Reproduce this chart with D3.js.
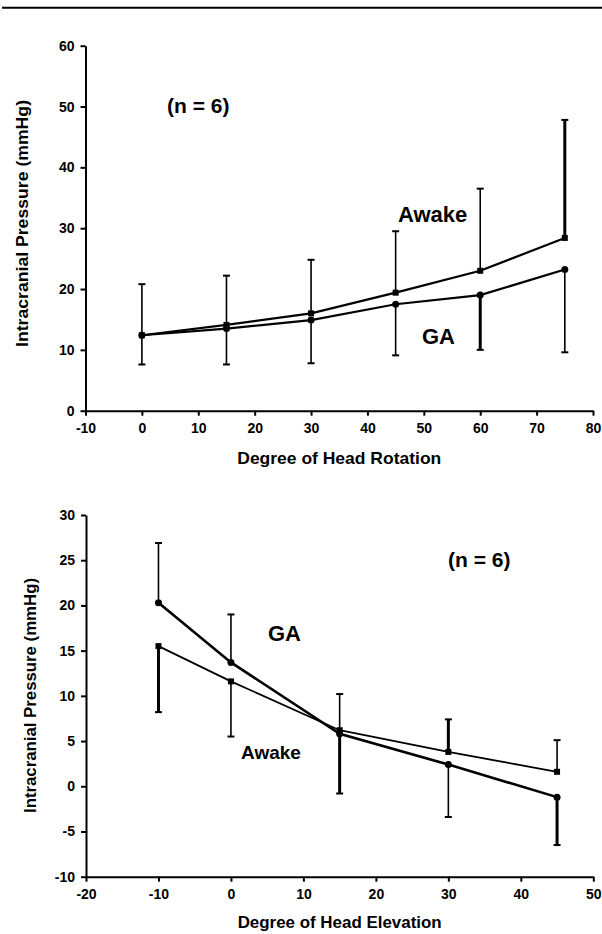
<!DOCTYPE html>
<html>
<head>
<meta charset="utf-8">
<script src="https://cdn.jsdelivr.net/npm/d3@7"></script>
<style>
    body { margin: 0; background: #fff; }
    svg { display: block; }
    .axis path, .axis line { stroke: #000; }
    .axis text { font-family: "Liberation Sans", Arial, sans-serif; font-weight: bold; font-size: 14px; fill: #000; }
    .lbl { font-family: "Liberation Sans", Arial, sans-serif; font-weight: bold; fill: #000; }
</style>
</head>
<body>
<svg id="chart" width="602" height="934"></svg>
<script>

//head rotation panel
var rotation_deg = [0, 15, 30, 45, 60, 75];
var rotation_awake = [12.4, 14.1, 16.0, 19.4, 23.0, 28.4];
var rotation_ga = [12.4, 13.5, 14.9, 17.5, 19.0, 23.2];
var rotation_awake_sd = [8.4, 8.1, 8.8, 10.1, 13.5, 19.4];
var rotation_awake_side = ["up", "up", "up", "up", "up", "up"];
var rotation_ga_sd = [4.8, 5.9, 7.1, 8.4, 9.0, 13.6];
var rotation_ga_side = ["down", "down", "down", "down", "down", "down"];
var rotation_x_ticks = [-10, 0, 10, 20, 30, 40, 50, 60, 70, 80];
var rotation_y_ticks = [0, 10, 20, 30, 40, 50, 60];

//head elevation panel
var elevation_deg = [-10, 0, 15, 30, 45];
var elevation_awake = [15.5, 11.6, 6.2, 3.8, 1.6];
var elevation_ga = [20.3, 13.7, 5.8, 2.4, -1.2];
var elevation_awake_sd = [7.3, 6.1, 4.0, 3.6, 3.5];
var elevation_awake_side = ["down", "down", "up", "up", "up"];
var elevation_ga_sd = [6.6, 5.3, 6.6, 5.8, 5.3];
var elevation_ga_side = ["up", "up", "down", "down", "down"];
var elevation_x_ticks = [-20, -10, 0, 10, 20, 30, 40, 50];
var elevation_y_ticks = [-10, -5, 0, 5, 10, 15, 20, 25, 30];

var svg = d3.select("#chart");

//top rule of the page
svg.append("line")
    .attr("x1", 2).attr("x2", 602)
    .attr("y1", 7.8).attr("y2", 7.8)
    .attr("stroke", "#000").attr("stroke-width", 2);

//plain hyphen for negatives, as printed
var fmt = d => String(d);

function draw_panel(p) {

    var x = d3.scaleLinear().domain(p.x_domain).range(p.x_range);
    var y = d3.scaleLinear().domain(p.y_domain).range(p.y_range);
    var g = svg.append("g");

    //axes
    g.append("g").attr("class", "axis")
        .attr("transform", "translate(0," + p.y_range[0] + ")")
        .call(d3.axisBottom(x).tickValues(p.x_ticks).tickSize(5).tickSizeOuter(0).tickPadding(7).tickFormat(fmt))
        .call(a => a.selectAll("path,line").attr("stroke-width", 2));

    g.append("g").attr("class", "axis")
        .attr("transform", "translate(" + p.x_range[0] + ",0)")
        .call(d3.axisLeft(y).tickValues(p.y_ticks).tickSize(5).tickSizeOuter(0).tickPadding(6).tickFormat(fmt))
        .call(a => a.selectAll("path,line").attr("stroke-width", 2));

    g.selectAll(".axis text").attr("font-family", null).attr("font-size", null);

    //series
    p.series.forEach(function(s) {
        var pts = p.deg.map((d, i) => ({x: d, v: s.values[i], sd: s.sd[i], side: s.side[i], i: i}));

        //error bars
        var bars = g.selectAll(".bar_" + s.name)
            .data(pts)
            .join("g").attr("class", "bar_" + s.name);

        bars.append("line")
            .attr("x1", d => x(d.x)).attr("x2", d => x(d.x))
            .attr("y1", d => y(d.v))
            .attr("y2", d => y(d.side === "up" ? d.v + d.sd : d.v - d.sd))
            .attr("stroke", "#000")
            .attr("stroke-width", d => s.heavy.indexOf(d.i) > -1 ? 3 : 1.6);

        bars.append("line")
            .attr("x1", d => x(d.x) - 3.5).attr("x2", d => x(d.x) + 3.5)
            .attr("y1", d => y(d.side === "up" ? d.v + d.sd : d.v - d.sd))
            .attr("y2", d => y(d.side === "up" ? d.v + d.sd : d.v - d.sd))
            .attr("stroke", "#000")
            .attr("stroke-width", 2);

        g.append("path")
            .datum(pts)
            .attr("fill", "none")
            .attr("stroke", "#000")
            .attr("stroke-width", s.width)
            .attr("d", d3.line().x(d => x(d.x)).y(d => y(d.v)));

        if (s.marker === "square") {
            g.selectAll(".sq_" + s.name)
                .data(pts)
                .join("rect").attr("class", "sq_" + s.name)
                .attr("x", d => x(d.x) - 3).attr("y", d => y(d.v) - 3)
                .attr("width", 6).attr("height", 6)
                .attr("fill", "#000");
        } else {
            g.selectAll(".dot_" + s.name)
                .data(pts)
                .join("circle").attr("class", "dot_" + s.name)
                .attr("cx", d => x(d.x)).attr("cy", d => y(d.v))
                .attr("r", 3.5)
                .attr("fill", "#000");
        }
    });

    //titles
    g.append("text").attr("class", "lbl")
        .attr("x", (p.x_range[0] + p.x_range[1]) / 2)
        .attr("y", p.x_title_y)
        .attr("text-anchor", "middle")
        .attr("font-size", 17)
        .attr("textLength", p.x_title_len)
        .attr("lengthAdjust", "spacingAndGlyphs")
        .text(p.x_title);

    g.append("text").attr("class", "lbl")
        .attr("transform", "translate(" + p.y_title_x + "," + p.y_title_mid + ") rotate(-90)")
        .attr("text-anchor", "middle")
        .attr("font-size", 17)
        .attr("textLength", p.y_title_len)
        .attr("lengthAdjust", "spacingAndGlyphs")
        .text("Intracranial Pressure (mmHg)");

    //annotations
    p.notes.forEach(function(n) {
        g.append("text").attr("class", "lbl")
            .attr("x", n.x).attr("y", n.y)
            .attr("font-size", n.size)
            .text(n.text);
    });
}

draw_panel({
    deg: rotation_deg,
    x_domain: [-10, 80], x_range: [85.5, 593],
    y_domain: [0, 60], y_range: [410.7, 45.7],
    x_ticks: rotation_x_ticks, y_ticks: rotation_y_ticks,
    x_title: "Degree of Head Rotation", x_title_y: 464, x_title_len: 204,
    y_title_x: 28, y_title_mid: 223.5, y_title_len: 247,
    series: [
        {name: "awake", values: rotation_awake, sd: rotation_awake_sd, side: rotation_awake_side, width: 2.2, marker: "square", heavy: [5]},
        {name: "ga", values: rotation_ga, sd: rotation_ga_sd, side: rotation_ga_side, width: 2.2, marker: "circle", heavy: [4]}
    ],
    notes: [
        {text: "(n = 6)", x: 167, y: 113, size: 21},
        {text: "Awake", x: 398, y: 222, size: 22},
        {text: "GA", x: 422, y: 344, size: 22}
    ]
});

draw_panel({
    deg: elevation_deg,
    x_domain: [-20, 50], x_range: [86, 593.3],
    y_domain: [-10, 30], y_range: [876.7, 515],
    x_ticks: elevation_x_ticks, y_ticks: elevation_y_ticks,
    x_title: "Degree of Head Elevation", x_title_y: 928, x_title_len: 204,
    y_title_x: 36, y_title_mid: 695.5, y_title_len: 235,
    series: [
        {name: "awake2", values: elevation_awake, sd: elevation_awake_sd, side: elevation_awake_side, width: 1.8, marker: "square", heavy: [0, 3]},
        {name: "ga2", values: elevation_ga, sd: elevation_ga_sd, side: elevation_ga_side, width: 2.6, marker: "circle", heavy: [2, 4]}
    ],
    notes: [
        {text: "(n = 6)", x: 448, y: 567, size: 21},
        {text: "GA", x: 268, y: 641, size: 22},
        {text: "Awake", x: 241, y: 759, size: 19}
    ]
});

</script>
</body>
</html>
